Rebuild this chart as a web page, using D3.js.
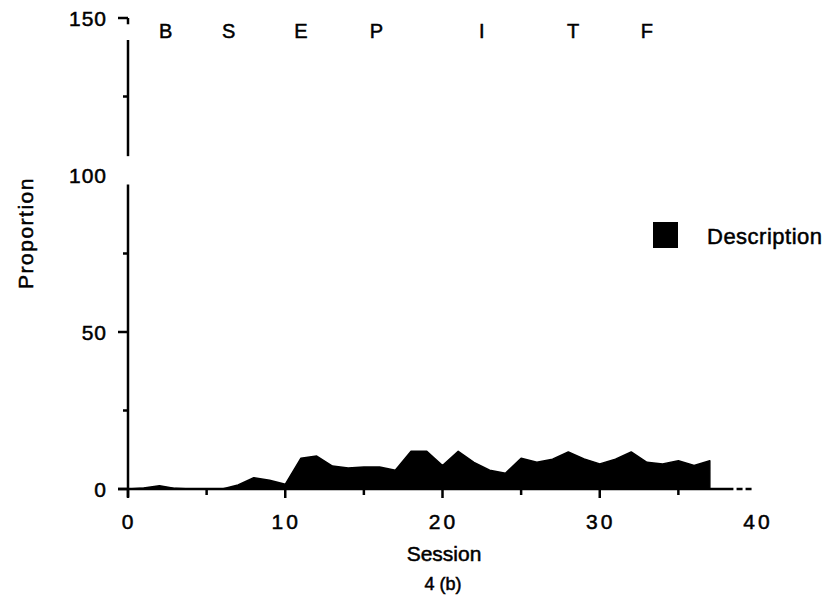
<!DOCTYPE html>
<html lang="en">
<head>
    <meta charset="UTF-8">
    <title>Session proportion</title>
    <script type="text/javascript" src="https://cdnjs.cloudflare.com/ajax/libs/d3/7.8.5/d3.min.js"></script>
    <style>
        body { margin: 0; background: #fff; }
        text { font-family: "Liberation Sans", Arial, sans-serif; fill: #000; stroke: #000; stroke-width: 0.5px; }
    </style>
</head>
<body>
<div id="chart"></div>
<script>
    // sessions and the proportion of "Description"
    var sessions = [0, 1, 2, 3, 4, 5, 6, 7, 8, 9, 10, 11, 12, 13, 14, 15, 16, 17, 18,
        19, 20, 21, 22, 23, 24, 25, 26, 27, 28, 29, 30, 31, 32, 33, 34, 35, 36, 37];
    var description = [0, 0.3, 1, 0.2, 0, 0, 0, 1.3, 3.6, 2.8, 1.5, 9.8, 10.5, 7.3, 6.7, 7, 7, 6,
        12, 12, 7.5, 12, 8.5, 6, 5, 9.8, 8.5, 9.5, 11.8, 9.6, 8, 9.5, 11.8, 8.5, 8, 9, 7.5, 9];

    // phase letters along the top, placed at session positions
    var phases = ["B", "S", "E", "P", "I", "T", "F"];
    var phaseAt = [2.4, 6.4, 11, 15.8, 22.5, 28.3, 33];

    var xTicks = [0, 10, 20, 30, 40];
    var xMinor = [5, 15, 25, 35];
    var yTicks = [0, 50, 100, 150];
    var yMinor = [25, 75, 125];

    var width = 831, height = 607;

    var svg = d3.select("#chart")
        .append("svg")
        .attr("width", width)
        .attr("height", height);

    var x = d3.scaleLinear().domain([0, 40]).range([128, 757]);
    var y = d3.scaleLinear().domain([0, 150]).range([489, 18]);

    // filled area
    var area = d3.area()
        .x(function(d, i) { return x(sessions[i]); })
        .y0(y(0))
        .y1(function(d) { return y(d); });

    svg.append("path")
        .datum(description)
        .attr("d", area)
        .attr("fill", "#000")
        .attr("stroke", "#000")
        .attr("stroke-width", 1.5)
        .attr("stroke-linejoin", "round");

    // y axis, with a break just under 100
    var yAx = svg.append("g").attr("stroke", "#000").attr("stroke-width", 2.5);
    yAx.append("line")
        .attr("x1", x(0)).attr("x2", x(0))
        .attr("y1", y(0) + 8).attr("y2", y(97));
    yAx.append("line")
        .attr("x1", x(0)).attr("x2", x(0))
        .attr("y1", y(106)).attr("y2", y(143));
    yAx.selectAll(".ymaj")
        .data(yTicks.filter(function(d) { return d !== 100; }))
        .enter().append("line")
        .attr("x1", x(0) - 10).attr("x2", x(0))
        .attr("y1", function(d) { return y(d); })
        .attr("y2", function(d) { return y(d); });
    yAx.selectAll(".ymin")
        .data(yMinor)
        .enter().append("line")
        .attr("x1", x(0) - 5).attr("x2", x(0))
        .attr("y1", function(d) { return y(d); })
        .attr("y2", function(d) { return y(d); });
    yAx.append("line")
        .attr("x1", x(0)).attr("x2", x(0))
        .attr("y1", y(150)).attr("y2", y(148));

    svg.selectAll(".ylab")
        .data(yTicks)
        .enter().append("text")
        .attr("x", 107)
        .attr("y", function(d) { return y(d) + 1; })
        .attr("dy", "0.35em")
        .attr("text-anchor", "end")
        .style("font-size", "21px")
        .style("letter-spacing", "1px")
        .text(function(d) { return d; });

    // x axis
    var xAx = svg.append("g").attr("stroke", "#000").attr("stroke-width", 2.5);
    xAx.append("line")
        .attr("x1", x(0) - 10).attr("x2", x(38.5))
        .attr("y1", y(0)).attr("y2", y(0));
    xAx.append("line")
        .attr("x1", x(38.7)).attr("x2", x(39.8))
        .attr("y1", y(0)).attr("y2", y(0))
        .attr("stroke-dasharray", "6,3");
    xAx.selectAll(".xmaj")
        .data(xTicks.filter(function(d) { return d < 40; }))
        .enter().append("line")
        .attr("x1", function(d) { return x(d); })
        .attr("x2", function(d) { return x(d); })
        .attr("y1", y(0)).attr("y2", y(0) + 9);
    xAx.selectAll(".xmin")
        .data(xMinor)
        .enter().append("line")
        .attr("x1", function(d) { return x(d); })
        .attr("x2", function(d) { return x(d); })
        .attr("y1", y(0)).attr("y2", y(0) + 6);

    svg.selectAll(".xlab")
        .data(xTicks)
        .enter().append("text")
        .attr("x", function(d) { return x(d) + 1; })
        .attr("y", 529)
        .attr("text-anchor", "middle")
        .style("font-size", "21px")
        .style("letter-spacing", "3px")
        .text(function(d) { return d; });

    // phase letters
    svg.selectAll(".phase")
        .data(phases)
        .enter().append("text")
        .attr("x", function(d, i) { return x(phaseAt[i]); })
        .attr("y", 38)
        .attr("text-anchor", "middle")
        .style("font-size", "20px")
        .text(function(d) { return d; });

    // axis titles
    svg.append("text")
        .attr("transform", "translate(33,233) rotate(-90)")
        .attr("text-anchor", "middle")
        .style("font-size", "21px")
        .style("letter-spacing", "1.5px")
        .text("Proportion");

    svg.append("text")
        .attr("x", 444).attr("y", 561)
        .attr("text-anchor", "middle")
        .style("font-size", "21px")
        .text("Session");

    svg.append("text")
        .attr("x", 443).attr("y", 590)
        .attr("text-anchor", "middle")
        .style("font-size", "18px")
        .text("4 (b)");

    // legend
    svg.append("rect")
        .attr("x", 653).attr("y", 222)
        .attr("width", 25).attr("height", 26)
        .attr("fill", "#000");
    svg.append("text")
        .attr("x", 707).attr("y", 244)
        .style("font-size", "22px")
        .style("letter-spacing", "0.5px")
        .text("Description");
</script>
</body>
</html>
